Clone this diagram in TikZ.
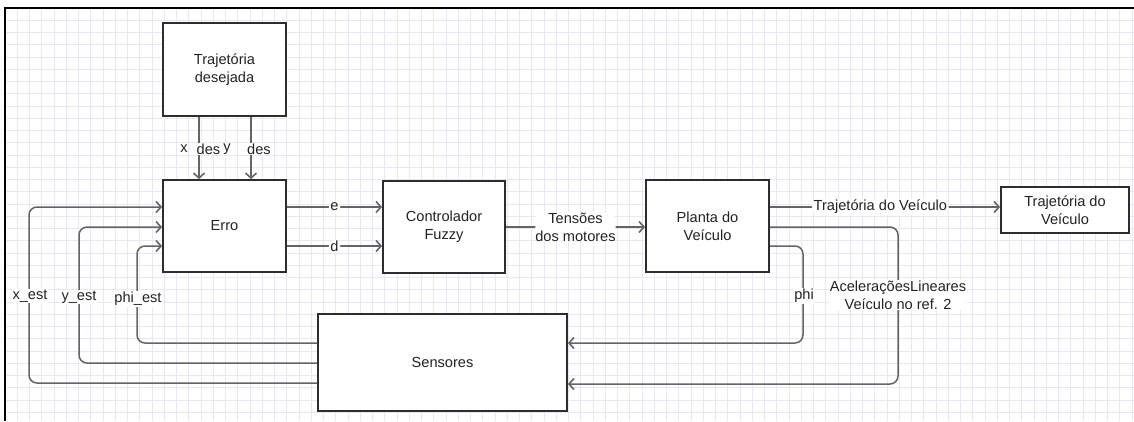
\documentclass[tikz,border=0pt]{standalone}
\usepackage{fontspec}
\setmainfont{Liberation Sans}
\usetikzlibrary{arrows.meta}
\definecolor{gridc}{RGB}{232,232,242}
\definecolor{linec}{RGB}{100,100,100}
\definecolor{boxc}{RGB}{45,45,45}
\definecolor{txtc}{RGB}{35,35,35}
\begin{document}
\begin{tikzpicture}[x=1pt,y=-1pt,
  font=\fontsize{14.6}{18}\selectfont,
  blockbox/.style={draw=boxc,line width=1.8pt,fill=white,align=center,text=txtc,inner sep=0pt},
  arr/.style={draw=linec,line width=1.5pt,-{Straight Barb[length=5pt,width=11pt,line width=1.6pt]},rounded corners=8pt},
  lbl/.style={fill=white,text=txtc,inner sep=1.5pt,align=center}]
\useasboundingbox (0,0) rectangle (1134,421);
\fill[white] (0,0) rectangle (1134,421);
\begin{scope}
\clip (5,8) rectangle (1134,421);
\foreach \i in {0,...,93} {\draw[gridc,line width=0.9pt] (5+\i*12.25,8) -- (5+\i*12.25,421);}
\foreach \j in {0,...,34} {\draw[gridc,line width=0.9pt] (5,8+\j*12.25) -- (1134,8+\j*12.25);}
\end{scope}
\draw[black,line width=2pt] (1134,8) -- (5,8) -- (5,421);

\node[blockbox,minimum width=123pt,minimum height=93pt] (traj) at (224.5,69.5) {Trajetória\\desejada};
\node[blockbox,minimum width=123pt,minimum height=92pt] (erro) at (224.5,226) {Erro};
\node[blockbox,minimum width=122pt,minimum height=92pt] (fuzzy) at (444,227) {Controlador\\Fuzzy};
\node[blockbox,minimum width=123pt,minimum height=92pt] (planta) at (707.5,226) {Planta do\\Veículo};
\node[blockbox,minimum width=128pt,minimum height=46pt] (trajv) at (1065,210) {Trajetória do\\Veículo};
\node[blockbox,minimum width=249pt,minimum height=97pt] (sens) at (442.5,362.5) {Sensores};

% desired trajectory inputs
\draw[arr] (traj.south -| 199,0) -- (erro.north -| 199,0);
\draw[arr] (traj.south -| 251,0) -- (erro.north -| 251,0);
\node[lbl,inner sep=0.5pt] (xl) at (184,149) {x};
\node[lbl,inner sep=0.5pt] (xd) at (208.5,149) {des};
\node[lbl,inner sep=0.5pt] (yl) at (227,149) {y};
\node[lbl,inner sep=0.5pt] (yd) at (259,149) {des};

% Erro -> Fuzzy
\draw[arr] (erro.east |- 0,207) -- node[lbl]{e} (fuzzy.west |- 0,207);
\draw[arr] (erro.east |- 0,246) -- node[lbl]{d} (fuzzy.west |- 0,246);

% Fuzzy -> Planta
\draw[arr] (fuzzy.east |- 0,227) -- node[lbl,inner sep=0pt]{Tensões\\dos motores} (planta.west |- 0,227);

% Planta -> Trajetoria do Veiculo
\draw[arr] (planta.east |- 0,207) -- node[lbl,pos=0.48]{Trajetória do Veículo} (trajv.west |- 0,207);

% feedback to sensors
\draw[arr] (planta.east |- 0,246) -- (803,246) -- (803,343) -- (sens.east |- 0,343);
\node[lbl] (phil) at (804,296) {phi};
\draw[arr] (planta.east |- 0,227) -- (898,227) -- (898,384) -- (sens.east |- 0,384);
\node[lbl,inner sep=1pt] (accl) at (898,295) {AceleraçõesLineares\\Veículo no ref. 2};

% sensors -> Erro
\draw[arr] (sens.west |- 0,343) -- (137,343) -- (137,246) -- (erro.west |- 0,246);
\node[lbl,inner sep=1pt] (phiest) at (138,299) {phi\_est};
\draw[arr] (sens.west |- 0,363) -- (79,363) -- (79,227) -- (erro.west |- 0,227);
\node[lbl,inner sep=1pt] (yest) at (79,297) {y\_est};
\draw[arr] (sens.west |- 0,383) -- (29,383) -- (29,207) -- (erro.west |- 0,207);
\node[lbl,inner sep=1pt] (xest) at (30,296) {x\_est};
\end{tikzpicture}
\end{document}
